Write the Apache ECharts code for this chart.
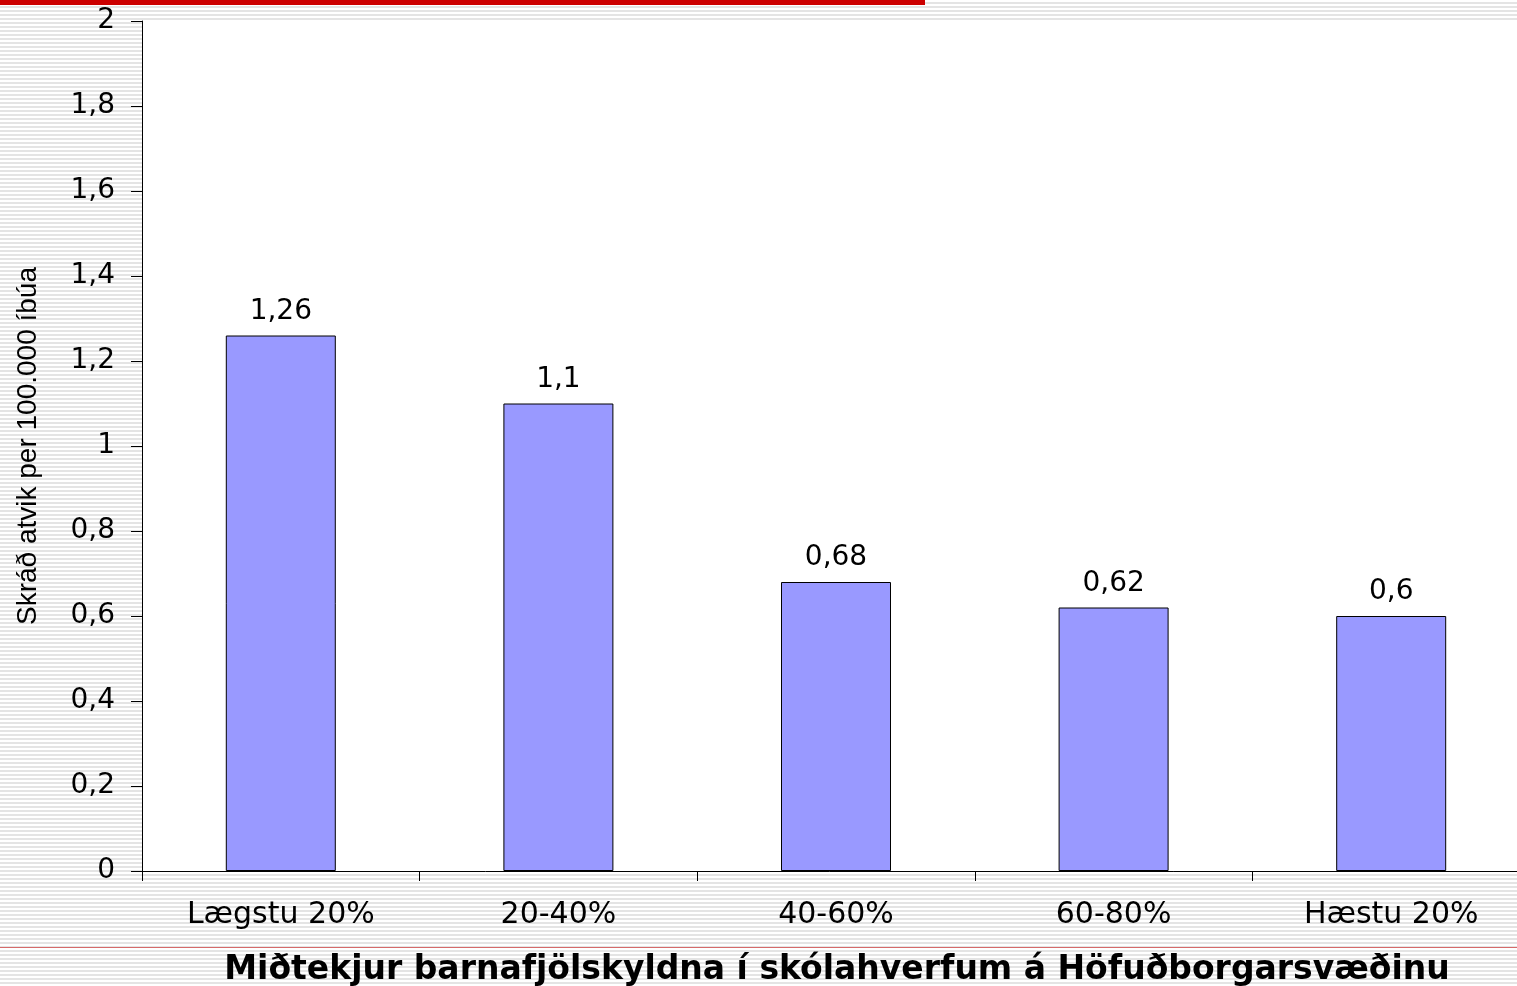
<!DOCTYPE html>
<html>
<head>
<meta charset="utf-8">
<script src="https://cdn.jsdelivr.net/npm/echarts@6/dist/echarts.min.js"></script>
<style>
  html, body { margin: 0; padding: 0; }
  #chart {
    width: 1517px; height: 986px;
    background: repeating-linear-gradient(to bottom, #ffffff 0px, #ffffff 2px, #e4e4e4 2px, #e4e4e4 4px);
  }
</style>
</head>
<body>
<div id="chart"></div>
<script>
// tekjuhópar
var categories = ['Lægstu 20%', '20-40%', '40-60%', '60-80%', 'Hæstu 20%'];
// skráð atvik per 100.000 íbúa
var values = [1.26, 1.1, 0.68, 0.62, 0.6];
var yTicks = [0, 0.2, 0.4, 0.6, 0.8, 1, 1.2, 1.4, 1.6, 1.8, 2];

function comma(v) {
  return String(v).replace('.', ',');
}

var myChart = echarts.init(document.getElementById('chart'));

var option = {
  animation: false,
  textStyle: { fontFamily: 'DejaVu Sans, sans-serif' },
  title: {
    text: 'Miðtekjur barnafjölskyldna í skólahverfum á Höfuðborgarsvæðinu',
    left: 832,
    textAlign: 'center',
    top: 949,
    textStyle: { fontSize: 33, fontWeight: 'bold', color: '#000', fontFamily: 'DejaVu Sans' }
  },
  grid: {
    left: 142,
    top: 21,
    width: 1388,
    height: 850,
    outerBoundsMode: 'none',
    show: true,
    backgroundColor: '#fff',
    borderWidth: 0
  },
  xAxis: {
    type: 'category',
    data: categories,
    axisLine: { lineStyle: { color: '#000', width: 1 } },
    axisTick: { show: true, length: 10, lineStyle: { color: '#000' } },
    axisLabel: { color: '#000', fontSize: 30, margin: 29 }
  },
  yAxis: {
    type: 'value',
    min: 0,
    max: 2,
    interval: 0.2,
    name: 'Skráð atvik per 100.000 íbúa',
    nameLocation: 'middle',
    nameGap: 100,
    nameTextStyle: { fontSize: 28, color: '#000', fontFamily: 'Liberation Sans' },
    axisLine: { show: true, lineStyle: { color: '#000', width: 1 } },
    axisTick: { show: true, length: 11, lineStyle: { color: '#000' } },
    splitLine: { show: false },
    axisLabel: {
      color: '#000',
      fontSize: 28,
      margin: 27,
      formatter: function (v) {
        var t = yTicks.filter(function (x) { return Math.abs(x - v) < 1e-9; })[0];
        return comma(t !== undefined ? t : +v.toFixed(1));
      }
    }
  },
  series: [{
    type: 'bar',
    data: values,
    barWidth: 110,
    itemStyle: { color: '#9999ff', borderColor: '#000', borderWidth: 1 },
    label: {
      show: true,
      position: 'top',
      distance: 10,
      color: '#000',
      fontSize: 28,
      formatter: function (p) { return comma(p.value); }
    }
  }],
  graphic: [
    { type: 'rect', shape: { x: 0, y: 0, width: 925, height: 5 }, style: { fill: '#cc0000' } },
    { type: 'rect', shape: { x: 0, y: 947, width: 1517, height: 1 }, style: { fill: '#d66a6a' } }
  ]
};

myChart.setOption(option);

window.addEventListener('resize', function () {
  myChart.resize();
});
</script>
</body>
</html>
